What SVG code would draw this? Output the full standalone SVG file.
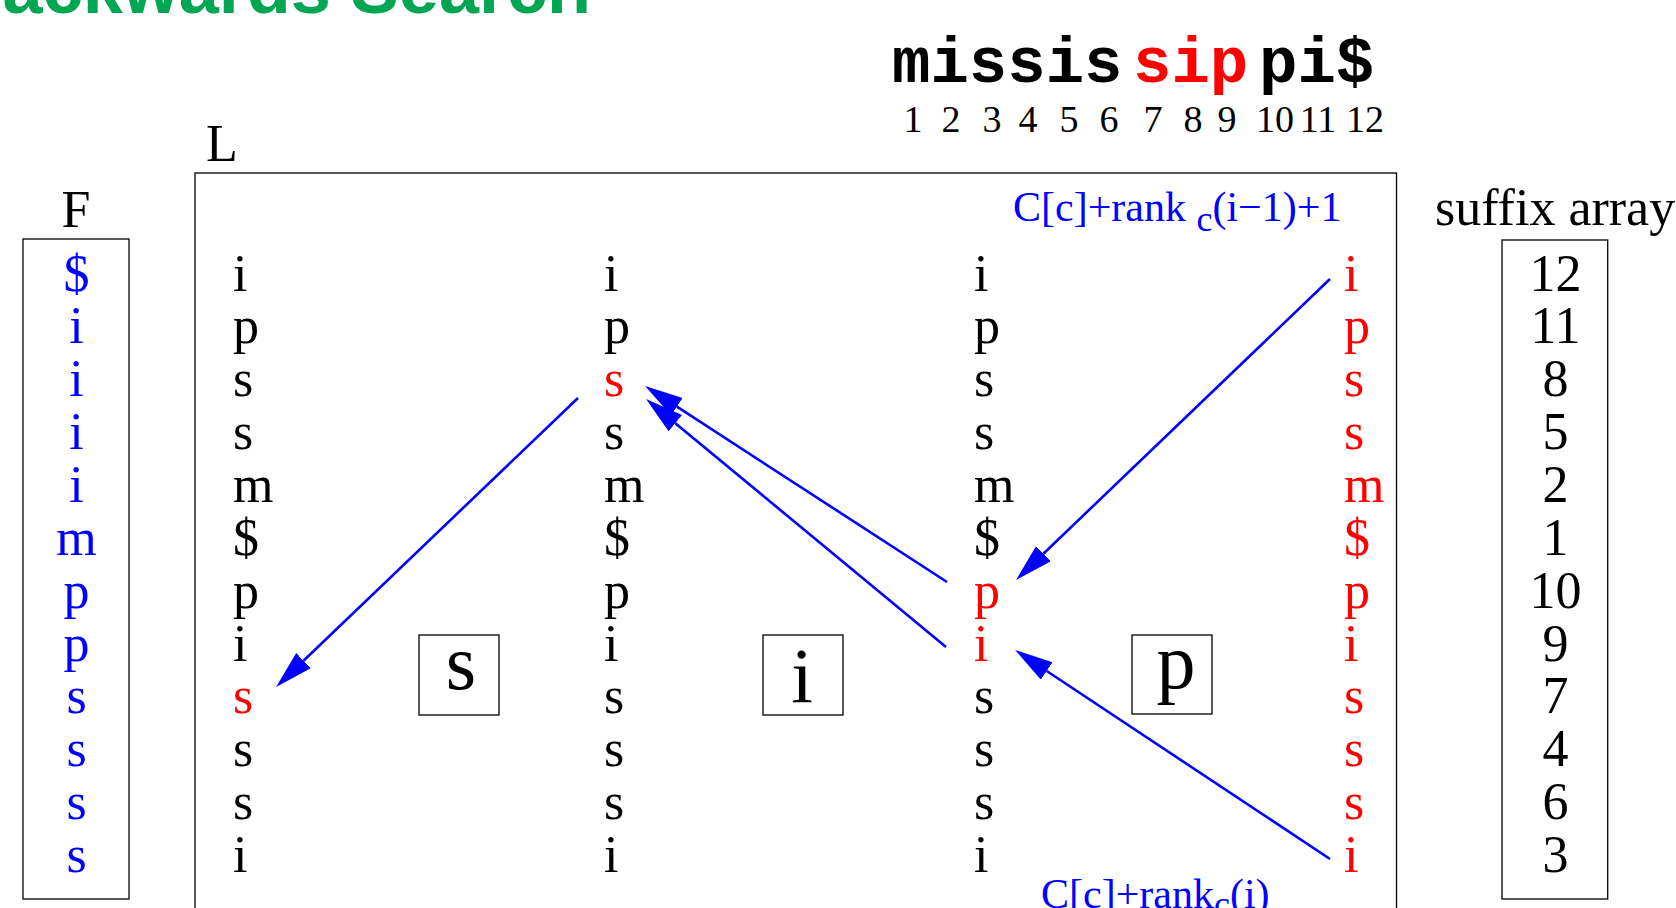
<svg xmlns="http://www.w3.org/2000/svg" width="1676" height="908" viewBox="0 0 1676 908">
<defs>
<style>
.t{font-family:"Liberation Serif","Times New Roman",serif;font-size:52px;fill:#000}
.b{fill:#0000ff}
.r{fill:#ff0000}
.mid{text-anchor:middle}
.num{font-family:"Liberation Serif","Times New Roman",serif;font-size:38px;fill:#000;text-anchor:middle}
.mono{font-family:"Courier New","Liberation Mono",monospace;font-size:64px;font-weight:bold}
.box{fill:none;stroke:#000;stroke-width:1.3}
.big{font-family:"Liberation Serif","Times New Roman",serif;font-size:78px;fill:#000;text-anchor:middle}
.f{font-family:"Liberation Serif","Times New Roman",serif;font-size:42px;fill:#0000ff}
.arr{stroke:#0000ff;stroke-width:2.6;fill:none;marker-end:url(#ah)}
</style>
<marker id="ah" markerUnits="userSpaceOnUse" markerWidth="40" markerHeight="22" refX="0" refY="10.5" orient="auto">
<path d="M0,0 L38,10.5 L0,21 Z" fill="#0000ff"/>
</marker>
</defs>
<rect width="1676" height="908" fill="#fff"/>

<g id="title">
<text x="591" y="13" text-anchor="end" style="font-family:'Liberation Sans',Arial,sans-serif;font-size:72px;font-weight:bold;fill:#00a651">Backwards Search</text>
</g>

<g id="string">
<text class="mono" x="892" y="82" fill="#000">missis</text>
<text class="mono" x="1133" y="82" fill="#ff0000">sip</text>
<text class="mono" x="1259" y="82" fill="#000">pi$</text>
<text class="num" x="913" y="132">1</text>
<text class="num" x="951" y="132">2</text>
<text class="num" x="992" y="132">3</text>
<text class="num" x="1028" y="132">4</text>
<text class="num" x="1069" y="132">5</text>
<text class="num" x="1109" y="132">6</text>
<text class="num" x="1153" y="132">7</text>
<text class="num" x="1193" y="132">8</text>
<text class="num" x="1227" y="132">9</text>
<text class="num" x="1275" y="132">10</text>
<text class="num" x="1318" y="132">11</text>
<text class="num" x="1365" y="132">12</text>
</g>

<g id="F-column">
<text class="t mid" x="76" y="227">F</text>
<rect class="box" x="23" y="239" width="106" height="660"/>
<text class="t b mid" x="76.5" y="290.5">$</text>
<text class="t b mid" x="76.5" y="343.4">i</text>
<text class="t b mid" x="76.5" y="396.2">i</text>
<text class="t b mid" x="76.5" y="449.1">i</text>
<text class="t b mid" x="76.5" y="501.9">i</text>
<text class="t b mid" x="76.5" y="554.8">m</text>
<text class="t b mid" x="76.5" y="607.6">p</text>
<text class="t b mid" x="76.5" y="660.5">p</text>
<text class="t b mid" x="76.5" y="713.3">s</text>
<text class="t b mid" x="76.5" y="766.2">s</text>
<text class="t b mid" x="76.5" y="819">s</text>
<text class="t b mid" x="76.5" y="871.9">s</text>
</g>

<g id="L-box">
<text class="t" x="206" y="161">L</text>
<rect class="box" x="195" y="173" width="1201.5" height="760"/>
<text class="f" x="1013" y="221">C[c]+rank <tspan font-size="36" dy="10">c</tspan><tspan dy="-10">(i−1)+1</tspan></text>
<text class="f" x="1041" y="908">C[c]+rank<tspan font-size="36" dy="8">c</tspan><tspan dy="-8">(i)</tspan></text>
</g>

<g id="L-col1">
<text class="t" x="233" y="290.5">i</text>
<text class="t" x="233" y="343.4">p</text>
<text class="t" x="233" y="396.2">s</text>
<text class="t" x="233" y="449.1">s</text>
<text class="t" x="233" y="501.9">m</text>
<text class="t" x="233" y="554.8">$</text>
<text class="t" x="233" y="607.6">p</text>
<text class="t" x="233" y="660.5">i</text>
<text class="t r" x="233" y="713.3">s</text>
<text class="t" x="233" y="766.2">s</text>
<text class="t" x="233" y="819">s</text>
<text class="t" x="233" y="871.9">i</text>
</g>

<g id="L-col2">
<text class="t" x="604" y="290.5">i</text>
<text class="t" x="604" y="343.4">p</text>
<text class="t r" x="604" y="396.2">s</text>
<text class="t" x="604" y="449.1">s</text>
<text class="t" x="604" y="501.9">m</text>
<text class="t" x="604" y="554.8">$</text>
<text class="t" x="604" y="607.6">p</text>
<text class="t" x="604" y="660.5">i</text>
<text class="t" x="604" y="713.3">s</text>
<text class="t" x="604" y="766.2">s</text>
<text class="t" x="604" y="819">s</text>
<text class="t" x="604" y="871.9">i</text>
</g>

<g id="L-col3">
<text class="t" x="974" y="290.5">i</text>
<text class="t" x="974" y="343.4">p</text>
<text class="t" x="974" y="396.2">s</text>
<text class="t" x="974" y="449.1">s</text>
<text class="t" x="974" y="501.9">m</text>
<text class="t" x="974" y="554.8">$</text>
<text class="t r" x="974" y="607.6">p</text>
<text class="t r" x="974" y="660.5">i</text>
<text class="t" x="974" y="713.3">s</text>
<text class="t" x="974" y="766.2">s</text>
<text class="t" x="974" y="819">s</text>
<text class="t" x="974" y="871.9">i</text>
</g>

<g id="L-col4">
<text class="t r" x="1344" y="290.5">i</text>
<text class="t r" x="1344" y="343.4">p</text>
<text class="t r" x="1344" y="396.2">s</text>
<text class="t r" x="1344" y="449.1">s</text>
<text class="t r" x="1344" y="501.9">m</text>
<text class="t r" x="1344" y="554.8">$</text>
<text class="t r" x="1344" y="607.6">p</text>
<text class="t r" x="1344" y="660.5">i</text>
<text class="t r" x="1344" y="713.3">s</text>
<text class="t r" x="1344" y="766.2">s</text>
<text class="t r" x="1344" y="819">s</text>
<text class="t r" x="1344" y="871.9">i</text>
</g>

<g id="box-s">
<rect class="box" x="419" y="635" width="80" height="80"/>
<text class="big" x="461" y="689">s</text>
</g>
<g id="box-i">
<rect class="box" x="763" y="635" width="80" height="80"/>
<text class="big" x="802" y="702">i</text>
</g>
<g id="box-p">
<rect class="box" x="1132" y="635" width="80" height="79"/>
<text class="big" x="1176" y="688">p</text>
</g>

<g id="suffix-array">
<text class="t" x="1435" y="225">suffix array</text>
<rect class="box" x="1502" y="240" width="105.7" height="659"/>
<text class="t mid" x="1555.5" y="290.5">12</text>
<text class="t mid" x="1555.5" y="343.4">11</text>
<text class="t mid" x="1555.5" y="396.2">8</text>
<text class="t mid" x="1555.5" y="449.1">5</text>
<text class="t mid" x="1555.5" y="501.9">2</text>
<text class="t mid" x="1555.5" y="554.8">1</text>
<text class="t mid" x="1555.5" y="607.6">10</text>
<text class="t mid" x="1555.5" y="660.5">9</text>
<text class="t mid" x="1555.5" y="713.3">7</text>
<text class="t mid" x="1555.5" y="766.2">4</text>
<text class="t mid" x="1555.5" y="819">6</text>
<text class="t mid" x="1555.5" y="871.9">3</text>
</g>

<g id="connectors">
<line class="arr" x1="1330" y1="279" x2="1043.4" y2="553.7"/>
<line class="arr" x1="1330" y1="859" x2="1046.7" y2="671"/>
<line class="arr" x1="947" y1="582" x2="676.9" y2="406.7"/>
<line class="arr" x1="946" y1="647" x2="675.3" y2="423.2"/>
<line class="arr" x1="578" y1="398" x2="303.5" y2="660.7"/>
</g>
</svg>
